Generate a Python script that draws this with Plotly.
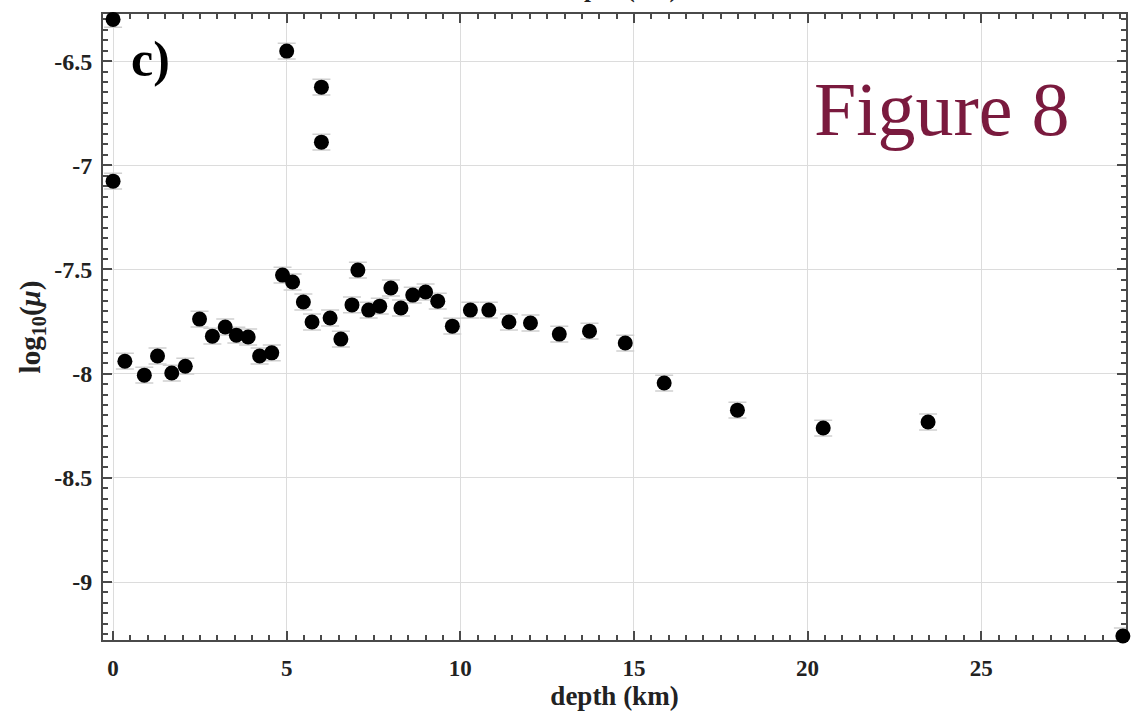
import plotly.graph_objects as go

# Data
depth_km = [0.0, 0.0, 0.34, 0.90, 1.28, 1.69, 2.08, 2.49, 2.86, 3.23, 3.55, 3.89, 4.22, 4.57,
            4.88, 5.00, 5.17, 5.48, 5.73, 6.00, 6.00, 6.25, 6.56, 6.88, 7.05, 7.36, 7.68, 8.00,
            8.29, 8.63, 9.00, 9.35, 9.77, 10.29, 10.82, 11.40, 12.02, 12.85, 13.72, 14.75,
            15.87, 17.98, 20.45, 23.47, 29.08]
log_mu = [-6.30, -7.076, -7.94, -8.007, -7.915, -7.997, -7.964, -7.738, -7.82, -7.776, -7.815,
          -7.824, -7.915, -7.90, -7.527, -6.452, -7.56, -7.656, -7.752, -6.625, -6.889, -7.733,
          -7.834, -7.67, -7.503, -7.695, -7.676, -7.589, -7.685, -7.623, -7.608, -7.652, -7.772,
          -7.695, -7.695, -7.752, -7.757, -7.81, -7.796, -7.853, -8.045, -8.175, -8.261,
          -8.232, -9.259]

x_ticks = [0, 5, 10, 15, 20, 25]
x_tick_labels = ["0", "5", "10", "15", "20", "25"]
y_ticks = [-6.5, -7, -7.5, -8, -8.5, -9]
y_tick_labels = ["-6.5", "-7", "-7.5", "-8", "-8.5", "-9"]

serif = "Liberation Serif, Times New Roman, serif"

fig = go.Figure()
fig.add_trace(go.Scatter(
    x=depth_km, y=log_mu, mode="markers", cliponaxis=False,
    marker=dict(color="black", size=15, line=dict(width=0)),
    error_y=dict(type="constant", value=0.038, color="#d0d0d0", thickness=1.5, width=9),
    showlegend=False,
))

axis_common = dict(
    showline=True, linecolor="#4a4a4a", linewidth=2, mirror="allticks",
    ticks="inside", ticklen=9, tickwidth=1.5, tickcolor="#4a4a4a",
    showgrid=True, gridcolor="#dcdcdc", gridwidth=1, zeroline=False,
    layer="below traces",
)

fig.update_xaxes(
    **axis_common, range=[-0.29, 29.17], tickvals=x_ticks, ticktext=x_tick_labels,
    tickfont=dict(family=serif, size=23, color="#222", weight="bold"),
    minor=dict(ticks="inside", ticklen=5, dtick=0.5, tickcolor="#4a4a4a", showgrid=False),
    title=dict(text="depth (km)", font=dict(family=serif, size=27, color="#222", weight="bold"),
               standoff=2),
    ticklabelstandoff=6,
)
fig.update_yaxes(
    **axis_common, range=[-9.278, -6.274], tickvals=y_ticks, ticktext=y_tick_labels,
    tickfont=dict(family=serif, size=24, color="#222", weight="bold"),
    minor=dict(ticks="inside", ticklen=5, dtick=0.05, tickcolor="#4a4a4a", showgrid=False),
    title=dict(text="log<sub>10</sub>(<i>μ</i>)",
               font=dict(family=serif, size=29, color="#222", weight="bold"), standoff=5),
    ticklabelstandoff=4,
)

fig.add_annotation(x=1.09, y=-6.49, xref="x", yref="y", text="<b>c)</b>", showarrow=False,
                   font=dict(family=serif, size=50, color="black"), xanchor="center", yanchor="middle")
fig.add_annotation(x=23.85, y=-6.73, xref="x", yref="y", text="Figure 8", showarrow=False,
                   font=dict(family=serif, size=76, color="#7a1a3e"), xanchor="center", yanchor="middle")
# cut-off title of the panel above
fig.add_annotation(x=(620 - 103) / 1025, y=(640 - 5) / 626, xref="paper", yref="paper",
                   text="depth (km)", showarrow=False, xanchor="center", yanchor="bottom",
                   font=dict(family=serif, size=25, color="#222", weight="bold"))

fig.update_layout(
    width=1132, height=711,
    margin=dict(l=103, r=4, t=14, b=71),
    paper_bgcolor="white", plot_bgcolor="white",
)

fig.write_html("out.html")
